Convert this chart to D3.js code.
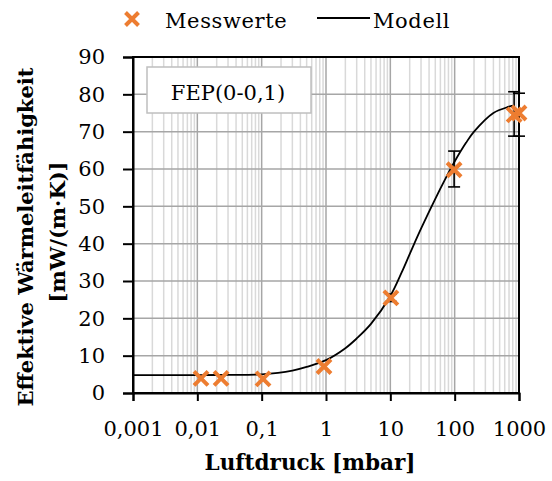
<!DOCTYPE html>
<html>
<head>
<meta charset="utf-8">
<script src="https://cdn.jsdelivr.net/npm/d3@7"></script>
<style>
  html, body { margin: 0; padding: 0; background: #fff; }
  svg { display: block; }
  text { font-family: "DejaVu Serif", "Liberation Serif", serif; fill: #000; }
</style>
</head>
<body>
<svg id="chart" width="552" height="481"></svg>
<script>
// Measured values: pressure [mbar], effective conductivity [mW/(m·K)], error half-widths
const pressure = [0.0114, 0.0234, 0.105, 0.93, 10.2, 98, 840, 1000];
const conductivity = [3.9, 3.9, 3.8, 7.1, 25.5, 59.8, 74.5, 75.0];
const errLow = [0, 0, 0, 0, 1.0, 4.6, 5.7, 6.2];
const errHigh = [0, 0, 0, 0, 1.0, 5.0, 6.2, 5.3];

// Model curve sampled along the pressure axis
const modelPressure = [0.001, 0.01, 0.03, 0.1, 0.3, 0.5, 1, 2, 3, 5, 10, 15, 20, 30, 50, 70, 100, 150, 200, 400, 700, 800];
const modelValue = [4.8, 4.8, 4.85, 5.0, 6.0, 7.0, 8.8, 12.0, 14.6, 18.5, 26.0, 32.3, 37.2, 44.0, 52.0, 57.0, 62.0, 67.0, 70.0, 75.0, 76.7, 77.0];

const xTicks = [0.001, 0.01, 0.1, 1, 10, 100, 1000];
const xTickLabels = ["0,001", "0,01", "0,1", "1", "10", "100", "1000"];
const yTicks = [0, 10, 20, 30, 40, 50, 60, 70, 80, 90];

const svg = d3.select("#chart");
const plotL = 133, plotR = 519, plotT = 57, plotB = 393;
const orange = "#ED7D31";
const fs = 21;

const x = d3.scaleLog().domain([0.001, 1000]).range([plotL, plotR]);
const y = d3.scaleLinear().domain([0, 90]).range([plotB, plotT]);

// Minor vertical grid (2..9 within each decade)
const minor = [];
for (let e = -3; e < 3; e++) for (let k = 2; k <= 9; k++) minor.push(k * Math.pow(10, e));
svg.append("g").selectAll("line").data(minor).join("line")
  .attr("x1", d => x(d)).attr("x2", d => x(d))
  .attr("y1", plotT).attr("y2", plotB)
  .attr("stroke", "#d9d9d9").attr("stroke-width", 1.5);

// Major grid
svg.append("g").selectAll("line").data(xTicks).join("line")
  .attr("x1", d => x(d)).attr("x2", d => x(d))
  .attr("y1", plotT).attr("y2", plotB)
  .attr("stroke", "#a6a6a6").attr("stroke-width", 1.5);
svg.append("g").selectAll("line").data(yTicks).join("line")
  .attr("x1", plotL).attr("x2", plotR)
  .attr("y1", d => y(d)).attr("y2", d => y(d))
  .attr("stroke", "#a6a6a6").attr("stroke-width", 1.5);

// Plot frame
svg.append("rect").attr("x", plotL).attr("y", plotT)
  .attr("width", plotR - plotL).attr("height", plotB - plotT)
  .attr("fill", "none").attr("stroke", "#000").attr("stroke-width", 2);

// Axes
const xAxis = d3.axisBottom(x).tickValues(xTicks)
  .tickFormat((d, i) => xTickLabels[i]).tickSizeOuter(0).tickSize(8).tickPadding(20);
const gx = svg.append("g").attr("transform", `translate(0,${plotB})`).call(xAxis);
gx.select(".domain").attr("stroke", "#000").attr("stroke-width", 2);
gx.selectAll(".tick line").attr("stroke", "#000").attr("stroke-width", 2);
gx.selectAll(".tick text").attr("font-size", fs).attr("font-family", "DejaVu Serif").attr("fill", "#000");

const yAxis = d3.axisLeft(y).tickValues(yTicks).tickSizeOuter(0).tickSize(10).tickPadding(18);
const gy = svg.append("g").attr("transform", `translate(${plotL},0)`).call(yAxis);
gy.select(".domain").attr("stroke", "#000").attr("stroke-width", 2);
gy.selectAll(".tick line").attr("stroke", "#000").attr("stroke-width", 2);
gy.selectAll(".tick text").attr("font-size", fs).attr("font-family", "DejaVu Serif").attr("fill", "#000");

// Model curve
const model = modelPressure.map((p, i) => [p, modelValue[i]]);
svg.append("path").datum(model)
  .attr("fill", "none").attr("stroke", "#000").attr("stroke-width", 1.8)
  .attr("d", d3.line().x(d => x(d[0])).y(d => y(d[1])).curve(d3.curveCatmullRom.alpha(0.5)));

// Error bars
const pts = pressure.map((p, i) => ({ p, v: conductivity[i], lo: errLow[i], hi: errHigh[i] }));
const eb = svg.append("g").selectAll("g").data(pts.filter(d => d.lo > 0 || d.hi > 0)).join("g")
  .attr("stroke", "#000").attr("stroke-width", 1.6);
eb.append("line").attr("x1", d => x(d.p)).attr("x2", d => x(d.p))
  .attr("y1", d => y(d.v + d.hi)).attr("y2", d => y(d.v - d.lo));
eb.append("line").attr("x1", d => x(d.p) - 6).attr("x2", d => x(d.p) + 6)
  .attr("y1", d => y(d.v + d.hi)).attr("y2", d => y(d.v + d.hi));
eb.append("line").attr("x1", d => x(d.p) - 6).attr("x2", d => x(d.p) + 6)
  .attr("y1", d => y(d.v - d.lo)).attr("y2", d => y(d.v - d.lo));

// Cross markers
function cross(g, cx, cy, r) {
  g.append("path")
    .attr("d", `M${cx - r},${cy - r}L${cx + r},${cy + r}M${cx - r},${cy + r}L${cx + r},${cy - r}`)
    .attr("stroke", orange).attr("stroke-width", 4).attr("fill", "none");
}
const mk = svg.append("g");
pts.forEach(d => cross(mk, x(d.p), y(d.v), 7));

// Sample label box
svg.append("rect").attr("x", 147).attr("y", 67).attr("width", 164).attr("height", 46)
  .attr("fill", "#fff").attr("stroke", "#bfbfbf").attr("stroke-width", 1.5);
svg.append("text").attr("x", 228).attr("y", 100).attr("text-anchor", "middle")
  .attr("font-size", fs).text("FEP(0-0,1)");

// Legend
const lg = svg.append("g");
cross(lg, 132, 19, 6.5);
lg.append("text").attr("x", 165).attr("y", 28).attr("font-size", fs)
  .attr("letter-spacing", 0.6).text("Messwerte");
lg.append("line").attr("x1", 317).attr("x2", 370).attr("y1", 18).attr("y2", 18)
  .attr("stroke", "#000").attr("stroke-width", 1.8);
lg.append("text").attr("x", 373).attr("y", 28).attr("font-size", fs)
  .attr("letter-spacing", 0.6).text("Modell");

// Axis titles
svg.append("text").attr("x", 310).attr("y", 470).attr("text-anchor", "middle")
  .attr("font-size", 21.5).attr("font-weight", "bold").text("Luftdruck [mbar]");
svg.append("text").attr("transform", "translate(33,237) rotate(-90)").attr("text-anchor", "middle")
  .attr("font-size", fs).attr("font-weight", "bold").text("Effektive Wärmeleitfähigkeit");
svg.append("text").attr("transform", "translate(65,232) rotate(-90)").attr("text-anchor", "middle")
  .attr("font-size", fs).attr("font-weight", "bold").text("[mW/(m·K)]");
</script>
</body>
</html>
